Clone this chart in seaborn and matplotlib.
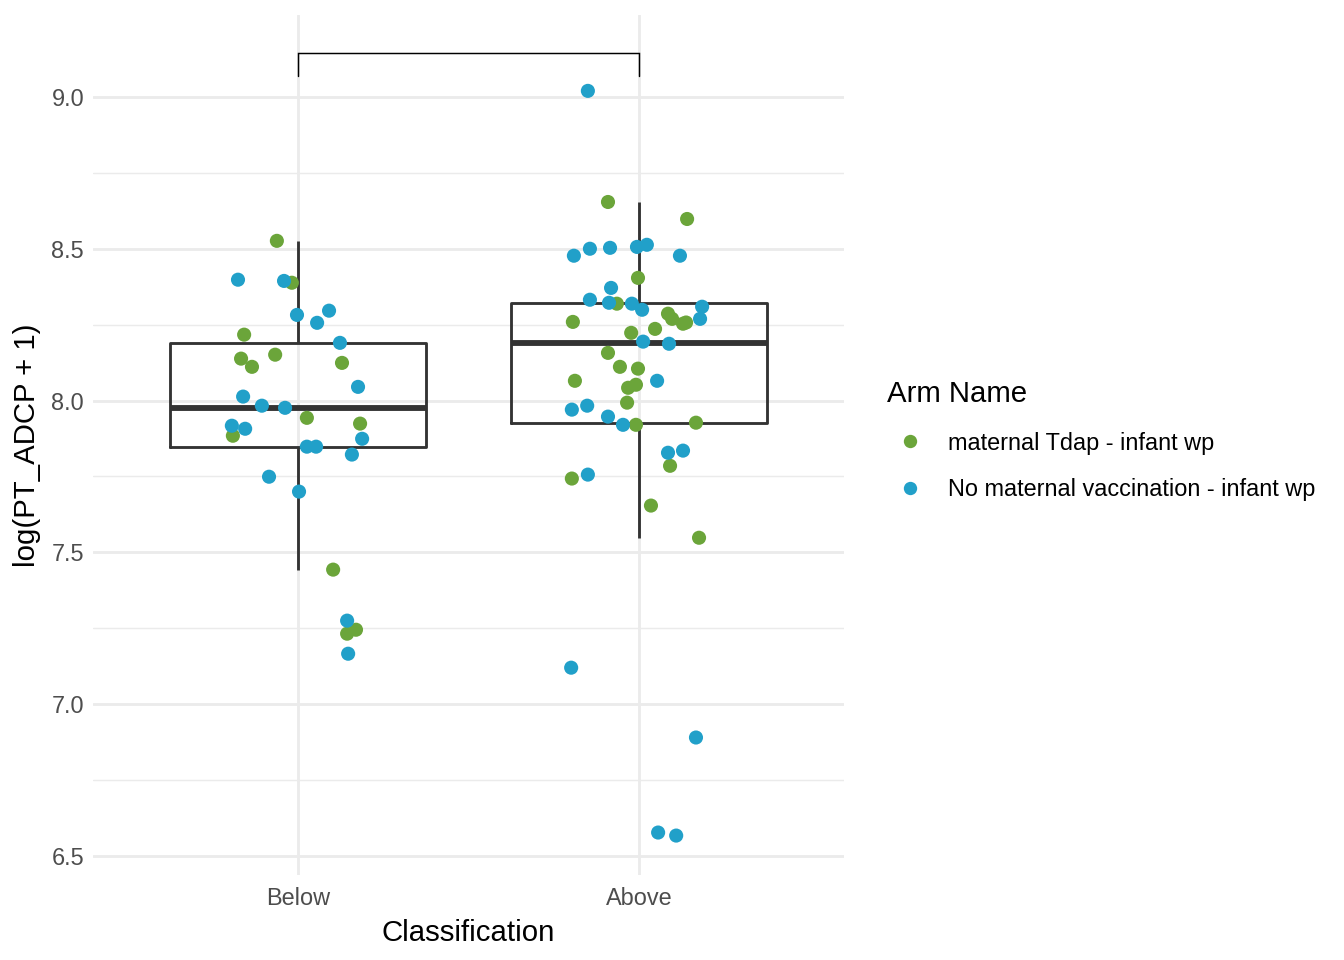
import numpy as np
import pandas as pd
import matplotlib
matplotlib.use("Agg")
import matplotlib.pyplot as plt
from matplotlib.lines import Line2D
import seaborn as sns

# ── Data ─────────────────────────────────────────────────────────────────────
classes = ["Below", "Above"]
arms = ["maternal Tdap - infant wp", "No maternal vaccination - infant wp"]
arm_colors = ["#6BA53A", "#21A0C9"]

below_tdap_y = [8.526, 8.388, 8.217, 8.138, 8.151, 8.111, 8.124, 7.943, 7.924,
                7.884, 7.443, 7.232, 7.245]
below_tdap_jit = [-0.062, -0.018, -0.158, -0.167, -0.067, -0.135, 0.129, 0.026,
                  0.182, -0.191, 0.103, 0.144, 0.170]
below_none_y = [8.398, 8.394, 8.282, 8.296, 8.256, 8.190, 8.045, 8.013, 7.983,
                7.976, 7.917, 7.907, 7.874, 7.848, 7.848, 7.822, 7.749, 7.700,
                7.275, 7.166]
below_none_jit = [-0.176, -0.041, -0.003, 0.091, 0.056, 0.123, 0.176, -0.161,
                  -0.106, -0.038, -0.194, -0.155, 0.188, 0.026, 0.053, 0.158,
                  -0.085, 0.003, 0.144, 0.147]

above_tdap_y = [8.654, 8.598, 8.404, 8.319, 8.286, 8.269, 8.253, 8.257, 8.259,
                8.236, 8.223, 8.157, 8.111, 8.105, 8.065, 8.042, 8.052, 7.993,
                7.920, 7.927, 7.785, 7.743, 7.654, 7.548]
above_tdap_jit = [-0.091, 0.141, -0.003, -0.065, 0.085, 0.097, 0.129, 0.138,
                  -0.194, 0.047, -0.023, -0.091, -0.056, -0.003, -0.188, -0.032,
                  -0.009, -0.035, -0.009, 0.167, 0.091, -0.197, 0.035, 0.176]
above_none_y = [9.020, 8.477, 8.500, 8.503, 8.506, 8.513, 8.477, 8.371, 8.332,
                8.322, 8.319, 8.299, 8.309, 8.269, 8.194, 8.187, 8.065, 7.970,
                7.983, 7.947, 7.920, 7.828, 7.835, 7.756, 7.120, 6.890, 6.577,
                6.567]
above_none_jit = [-0.150, -0.191, -0.144, -0.085, -0.006, 0.023, 0.120, -0.082,
                  -0.144, -0.088, -0.021, 0.009, 0.185, 0.179, 0.012, 0.088,
                  0.053, -0.197, -0.152, -0.091, -0.047, 0.085, 0.129, -0.150,
                  -0.199, 0.167, 0.056, 0.109]

bracket_y = 9.145
bracket_tip = 9.069


def build_frame():
    parts = []
    groups = [
        ("Below", arms[0], below_tdap_y, below_tdap_jit),
        ("Below", arms[1], below_none_y, below_none_jit),
        ("Above", arms[0], above_tdap_y, above_tdap_jit),
        ("Above", arms[1], above_none_y, above_none_jit),
    ]
    for cls, arm, ys, jit in groups:
        parts.append(pd.DataFrame({
            "Classification": cls,
            "Arm Name": arm,
            "value": ys,
            "xpos": classes.index(cls) + np.asarray(jit),
        }))
    return pd.concat(parts, ignore_index=True)


df = build_frame()

# ── Plot ─────────────────────────────────────────────────────────────────────
sns.set_style("white")
plt.rcParams["font.family"] = ["Liberation Sans", "DejaVu Sans"]
plt.rcParams["text.color"] = "black"
plt.rcParams["axes.labelcolor"] = "black"

fig = plt.figure(figsize=(7, 5), dpi=192)
ax = fig.add_axes([0.0695, 0.0885, 0.5582, 0.8959])

sns.boxplot(data=df, x="Classification", y="value", order=classes,
            fill=False, color="#333333", width=0.75, linewidth=1.07,
            showfliers=False, showcaps=False, whis=1.5,
            medianprops={"linewidth": 2.2, "color": "#333333"},
            ax=ax, zorder=3)

sns.scatterplot(data=df, x="xpos", y="value", hue="Arm Name", hue_order=arms,
                palette=arm_colors, s=28, linewidth=0, legend=False,
                ax=ax, zorder=4)

# significance bracket (no label)
ax.plot([0, 0, 1, 1], [bracket_tip, bracket_y, bracket_y, bracket_tip],
        color="black", linewidth=0.55, zorder=5, solid_joinstyle="miter")

ax.set_xlim(-0.6, 1.6)
ax.set_ylim(6.437, 9.27)
ax.set_xticks([0, 1])
ax.set_xticklabels(classes)
ax.set_yticks([6.5, 7.0, 7.5, 8.0, 8.5, 9.0])
ax.set_yticklabels(["6.5", "7.0", "7.5", "8.0", "8.5", "9.0"])
ax.set_yticks([6.75, 7.25, 7.75, 8.25, 8.75], minor=True)

ax.grid(True, which="major", color="#EBEBEB", linewidth=1.07)
ax.grid(True, which="minor", axis="y", color="#EBEBEB", linewidth=0.53)
ax.set_axisbelow(True)
for sp in ax.spines.values():
    sp.set_visible(False)
ax.tick_params(axis="both", which="both", length=0, labelsize=8.8,
               labelcolor="#4D4D4D")
ax.tick_params(axis="x", pad=4.5)
ax.tick_params(axis="y", pad=3.5)

ax.set_xlabel("Classification", fontsize=11, labelpad=3.5)
ax.set_ylabel("log(PT_ADCP + 1)", fontsize=11, labelpad=4)

handles = [Line2D([], [], marker="o", linestyle="", markersize=5.0,
                  markerfacecolor=c, markeredgewidth=0) for c in arm_colors]
leg = fig.legend(handles, arms, title="Arm Name", loc="center left",
                 bbox_to_anchor=(0.653, 0.541), frameon=False, fontsize=8.8,
                 title_fontsize=11, alignment="left", handletextpad=0.6,
                 labelspacing=1.0, borderaxespad=0)

fig.savefig("out.png", dpi=192)
